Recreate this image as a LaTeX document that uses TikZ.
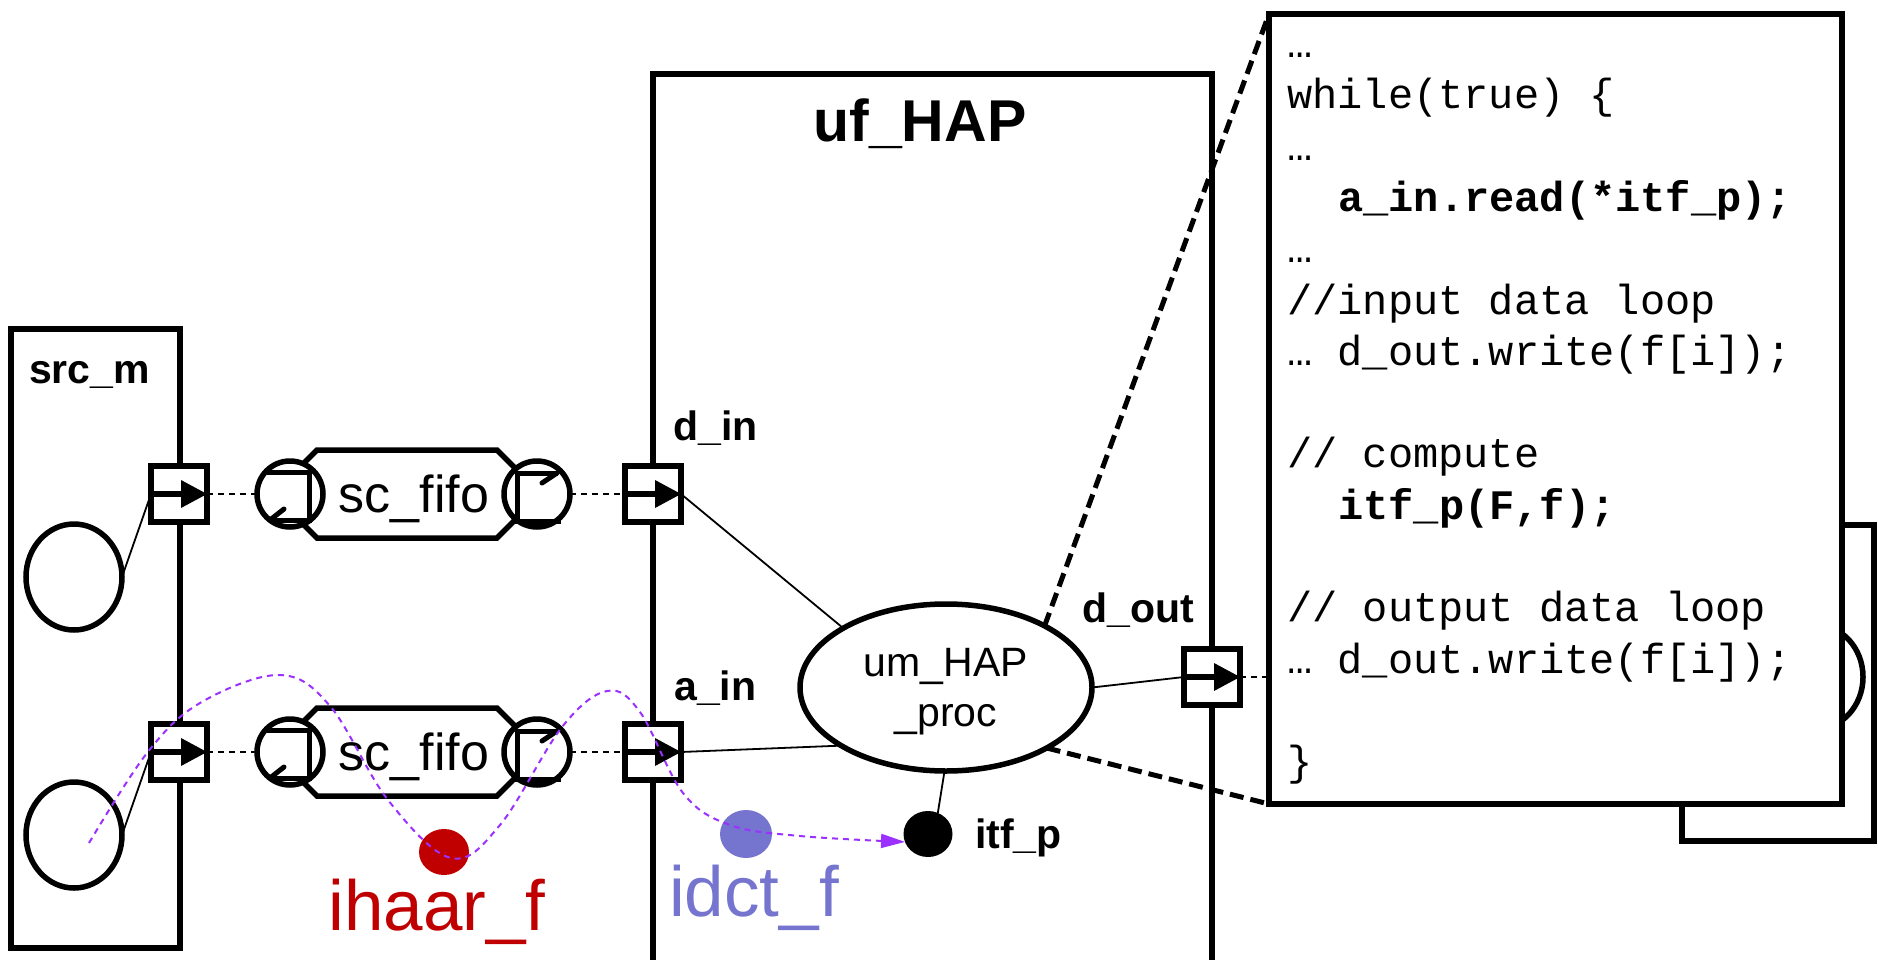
\documentclass[tikz,border=0pt]{standalone}
\usepackage{fontspec}
\setmainfont{Liberation Sans}
\newfontfamily\codefont{Liberation Mono}
\usetikzlibrary{arrows.meta,shapes.geometric}

\definecolor{hred}{HTML}{C00000}
\definecolor{dblue}{HTML}{7575CF}
\definecolor{tpurple}{HTML}{9B30FF}

\tikzset{
  modbox/.style={draw, line width=5.5pt, inner sep=0pt, outer sep=0pt},
  portbox/.style={draw, fill=white, line width=5.5pt, minimum size=56pt, inner sep=0pt, outer sep=0pt},
  procell/.style={ellipse, draw, fill=white, line width=5.5pt, inner sep=0pt, outer sep=0pt},
  fifoend/.style={circle, draw, fill=white, line width=5.5pt, minimum size=66pt, inner sep=0pt, outer sep=0pt},
  fifobody/.style={draw, fill=white, line width=5.5pt, line join=miter},
  fifoarr/.style={line width=5pt},
  chandash/.style={line width=2pt, dash pattern=on 6pt off 5pt},
  wire/.style={line width=1.8pt},
  zoomln/.style={line width=5pt, dash pattern=on 14pt off 7pt},
  lbl/.style={font=\fontsize{41}{45}\selectfont\bfseries, inner sep=0pt, anchor=base west},
  biglbl/.style={font=\fontsize{71}{75}\selectfont, inner sep=0pt, anchor=base},
  codeln/.style={font=\codefont\fontsize{42}{50}\selectfont, anchor=base west, inner sep=0pt},
  codebf/.style={font=\codefont\bfseries\fontsize{42}{50}\selectfont, anchor=base west, inner sep=0pt},
  dotnode/.style={ellipse, inner sep=0pt, outer sep=0pt, minimum width=50pt, minimum height=46pt},
}
\newcommand\portarrow[1]{%
  \draw[line width=5.5pt] (#1.west) -- ([xshift=-20pt]#1.east);
  \fill ([xshift=-26pt,yshift=14pt]#1.east) -- (#1.east) -- ([xshift=-26pt,yshift=-14pt]#1.east) -- cycle;}

\begin{document}
\begin{tikzpicture}[x=1pt,y=-1pt]
\clip (0,0) rectangle (1878,960);
\fill[white] (0,0) rectangle (1878,960);

% module behind the code box
\node[modbox, minimum width=192pt, minimum height=316pt] (nextm) at (1778,683) {};
\node[procell, minimum width=94pt, minimum height=104pt] (nexte) at (1816,677) {};

% src_m
\node[modbox, minimum width=169pt, minimum height=619pt] (srcm) at (95.5,638.5) {};
\node[lbl] (srcml) at (29,383) {src\_m};
\node[procell, minimum width=96pt, minimum height=106pt] (srce1) at (74,577) {};
\node[procell, minimum width=96pt, minimum height=106pt] (srce2) at (74,835) {};

% uf_HAP
\node[modbox, minimum width=559pt, minimum height=926pt] (ufhap) at (932.5,537) {};
\node[font=\fontsize{59}{62}\selectfont\bfseries, anchor=base, inner sep=0pt] (ufhapl) at (920,142) {uf\_HAP};

% fifos
\foreach \n/\yy in {1/494, 2/752} {
  \draw[fifobody, shift={(0,\yy)}] (317,-44) -- (497,-44) -- (527,-14) -- (527,14) -- (497,44) -- (317,44) -- (287,14) -- (287,-14) -- cycle;
  \node[fifoend] (fl\n) at (290,\yy) {};
  \node[fifoend] (fr\n) at (537,\yy) {};
  \draw[fifoarr, shift={(290,\yy)}] (-23,-22) -- (19,-22) -- (19,26) -- (-21,26);
  \draw[fifoarr, line cap=round, shift={(290,\yy)}] (-20,26) -- (-6,15);
  \draw[fifoarr, shift={(537,\yy)}] (24,27) -- (-20,27) -- (-20,-21) -- (21,-21);
  \draw[fifoarr, line cap=round, shift={(537,\yy)}] (20,-21) -- (5,-11);
  \node[font=\fontsize{52}{56}\selectfont, anchor=base, inner sep=0pt] (ft\n) at (414,\yy+18) {sc\_fifo};
}

% ports
\node[portbox] (sp1) at (179,494) {};
\node[portbox] (sp2) at (179,752) {};
\node[portbox] (dinp) at (653,494) {};
\node[portbox] (ainp) at (653,752) {};
\node[portbox] (doutp) at (1212,677) {};
\portarrow{sp1}
\portarrow{sp2}
\portarrow{dinp}
\portarrow{ainp}
\portarrow{doutp}

% channels
\draw[chandash] (sp1.east) -- (fl1.west);
\draw[chandash] (fr1.east) -- (dinp.west);
\draw[chandash] (sp2.east) -- (fl2.west);
\draw[chandash] (fr2.east) -- (ainp.west);
\draw[wire] (srce1.east) -- (sp1.west);
\draw[wire] (srce2.east) -- (sp2.west);

% process
\node[procell, minimum width=292pt, minimum height=167pt] (um) at (946,687.5) {};
\node[align=center, font=\fontsize{41}{50}\selectfont, inner sep=0pt] (umt) at (946,692) {um\_HAP\\\_proc};
\draw[wire] (dinp.east) -- (um.150);
\draw[wire] (ainp.east) -- (um.209);
\draw[wire] (um.east) -- (doutp.west);

% dots
\node[dotnode, fill=hred] (hdot) at (444,852) {};
\node[dotnode, fill=dblue, minimum width=52pt, minimum height=48pt] (bdot) at (746,834) {};
\node[dotnode, fill=black, minimum width=49pt] (itfdot) at (928,834) {};
\draw[wire] (um.269) -- (itfdot.65);

% code box
\node[modbox, fill=white, minimum width=573pt, minimum height=790pt] (code) at (1555.5,409) {};
\draw[zoomln] (um.32) -- (code.north west);
\draw[zoomln] (um.329) -- (code.south west);
\draw[chandash] (doutp.east) -- (doutp.east -| code.west);

\node[codeln] (c0) at (1287,57.5) {…};
\node[codeln] (c1) at (1287,108.8) {while(true) \{};
\node[codeln] (c2) at (1287,160.1) {…};
\node[codebf] (c3) at (1338,211.4) {a\_in.read(*itf\_p);};
\node[codeln] (c4) at (1287,262.7) {…};
\node[codeln] (c5) at (1287,314) {//input data loop};
\node[codeln] (c6) at (1287,365.3) {… d\_out.write(f[i]);};
\node[codeln] (c8) at (1287,467.9) {// compute};
\node[codebf] (c9) at (1338,519.2) {itf\_p(F,f);};
\node[codeln] (c11) at (1287,621.8) {// output data loop};
\node[codeln] (c12) at (1287,673.1) {… d\_out.write(f[i]);};
\node[codeln] (c14) at (1287,775.7) {\}};

% labels
\node[lbl] (dinl) at (673,440) {d\_in};
\node[lbl] (ainl) at (674,700) {a\_in};
\node[lbl] (doutl) at (1082,622) {d\_out};
\node[lbl] (itfl) at (975,848) {itf\_p};
\node[biglbl, text=hred] (ihl) at (437,930) {ihaar\_f};
\node[biglbl, text=dblue] (idl) at (754,916) {idct\_f};

% call path
\coordinate (pstart) at (89,843);
\draw[tpurple, line width=2pt, dash pattern=on 6pt off 5pt, -{Triangle[length=24pt,width=14pt]}]
  plot[smooth, tension=0.6] coordinates {(pstart) (147,753) (200,703) (279,675) (330,706) (388,800) (451,858) (500,825) (562,727) (607,691) (640,712) (683,793) (730,825) (800,836) (itfdot.199)};
\end{tikzpicture}
\end{document}
